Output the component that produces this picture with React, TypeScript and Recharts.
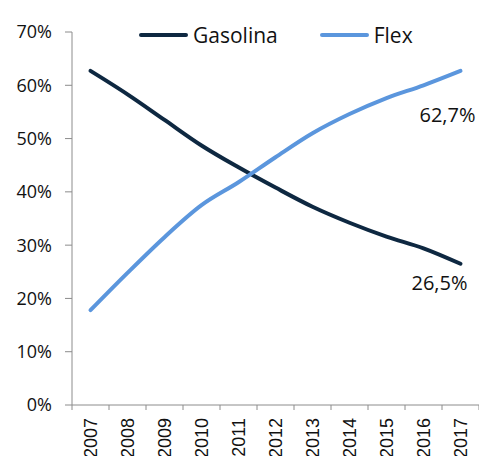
import React from "react";
import {
  LineChart,
  Line,
  XAxis,
  YAxis,
  Legend,
  LabelList,
} from "recharts";

// share of each fuel type, in %
const years = ["2007", "2008", "2009", "2010", "2011", "2012", "2013", "2014", "2015", "2016", "2017"];
const gasolina = [62.7, 58.3, 53.5, 48.7, 44.6, 40.8, 37.2, 34.2, 31.6, 29.4, 26.5];
const flex = [17.8, 24.8, 31.5, 37.5, 41.8, 46.5, 51.0, 54.6, 57.6, 60.0, 62.7];
const yTicks = [0, 10, 20, 30, 40, 50, 60, 70];

const series = [
  { key: "gasolina", name: "Gasolina", color: "#0e2841" },
  { key: "flex", name: "Flex", color: "#5b96dd" },
];

const data = years.map((year, i) => ({
  year,
  gasolina: gasolina[i],
  flex: flex[i],
}));

const W = 479;
const H = 456;
const Y_AXIS_W = 72;
const BAND = (W - Y_AXIS_W) / years.length;

const AXIS = "#8c8c8c";
const LABEL_FONT = "'Open Sans', sans-serif";

// category label plus tick marks on the band edges (excel style)
const XTick = ({ x, y, payload, index }: any) => (
  <g transform={`translate(${x},${y})`}>
    <line x1={-BAND / 2} x2={-BAND / 2} y1={-7} y2={-2} stroke={AXIS} />
    {index === years.length - 1 && (
      <line x1={BAND / 2} x2={BAND / 2} y1={-7} y2={-2} stroke={AXIS} />
    )}
    <text
      transform="rotate(-90)"
      x={-6}
      y={0}
      dy="0.36em"
      textAnchor="end"
      fill="#111"
      fontSize={18}
      fontFamily="'Liberation Sans', Arial, sans-serif"
    >
      {payload.value}
    </text>
  </g>
);

const LegendBox = () => (
  <div style={{ display: "flex", alignItems: "center", fontFamily: LABEL_FONT, fontSize: 21, color: "#111" }}>
    {series.map((s, i) => (
      <div key={s.key} style={{ display: "flex", alignItems: "center", marginRight: i === 0 ? 42 : 0 }}>
        <div style={{ width: 49, height: 4, borderRadius: 2, background: s.color, marginRight: 5 }} />
        <span>{s.name}</span>
      </div>
    ))}
  </div>
);

// value label only at the last point
const endLabel = (dx: number, dy: number) => (props: any) => {
  const { x, y, value, index } = props;
  if (index !== years.length - 1) return null;
  return (
    <text
      x={x + dx}
      y={y + dy}
      dy="0.35em"
      textAnchor="end"
      fill="#111"
      fontSize={20}
      fontFamily={LABEL_FONT}
    >
      {String(value).replace(".", ",") + "%"}
    </text>
  );
};

export default function App() {
  return (
    <div style={{ position: "absolute", left: 0, top: 0 }}>
      <LineChart
        width={W}
        height={H}
        data={data}
        margin={{ top: 32, right: 0, bottom: 0, left: 0 }}
      >
        <XAxis
          dataKey="year"
          scale="band"
          height={51}
          interval={0}
          stroke={AXIS}
          tickSize={5}
          tickMargin={2}
          tickLine={false}
          tick={<XTick />}
        />
        <YAxis
          width={Y_AXIS_W}
          domain={[0, 70]}
          ticks={yTicks}
          interval={0}
          stroke={AXIS}
          tickSize={7}
          tickMargin={13}
          tickFormatter={(v: number) => `${v}%`}
          tick={{ fill: "#111", fontSize: 18, fontFamily: LABEL_FONT }}
        />
        <Legend
          layout="horizontal"
          verticalAlign="middle"
          align="center"
          content={<LegendBox />}
          wrapperStyle={{ top: 21, left: 139, width: "auto", height: "auto" }}
        />
        {series.map((s) => (
          <Line
            key={s.key}
            dataKey={s.key}
            name={s.name}
            type="monotone"
            stroke={s.color}
            strokeWidth={4}
            strokeLinecap="round"
            dot={false}
            isAnimationActive={false}
          >
            <LabelList
              dataKey={s.key}
              content={s.key === "flex" ? endLabel(15, 44) : endLabel(7, 19)}
            />
          </Line>
        ))}
      </LineChart>
    </div>
  );
}
